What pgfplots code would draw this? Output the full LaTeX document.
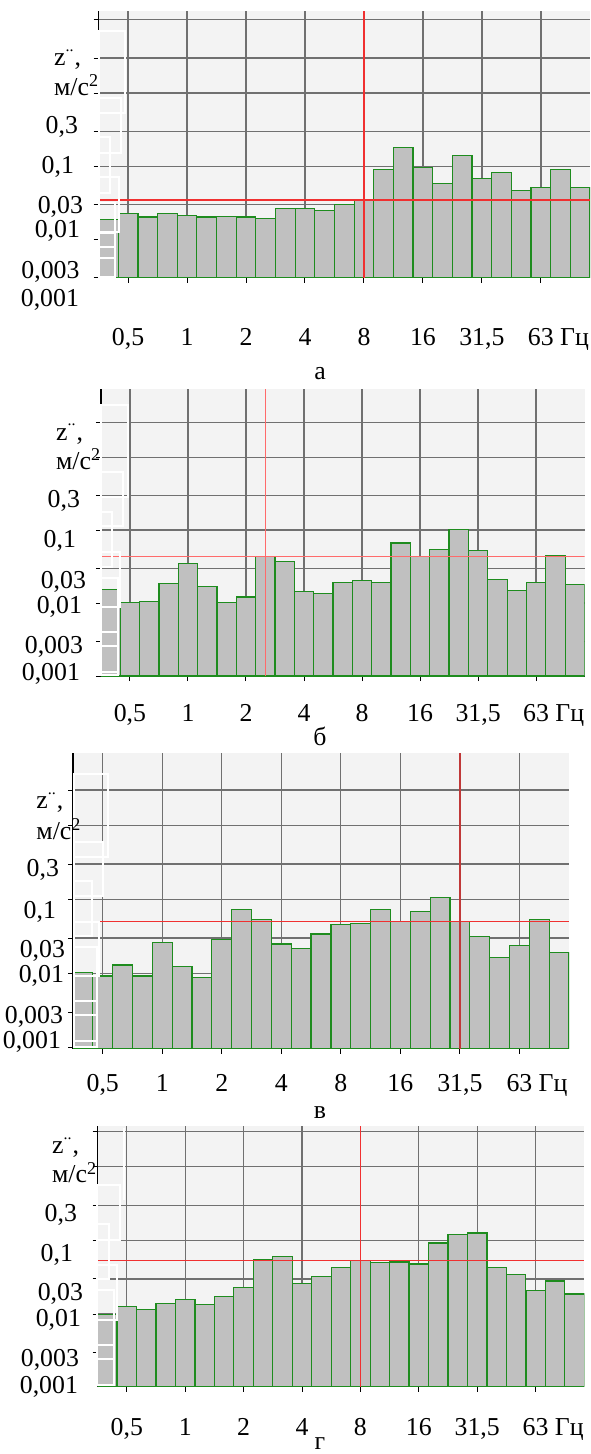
\documentclass[border=0pt]{standalone}
\usepackage{fontspec}
\setmainfont{Liberation Serif}
\usepackage{pgfplots}
\pgfplotsset{compat=1.18}
\definecolor{bg}{HTML}{F3F3F3}
\definecolor{gridc}{HTML}{707070}
\definecolor{barfill}{HTML}{C0C0C0}
\definecolor{baredge}{HTML}{1E8C1E}
\definecolor{redl}{HTML}{F03030}
\definecolor{redlight}{HTML}{FF6A6A}
\definecolor{reddark}{HTML}{C03838}
\newcommand\lbl{\fontsize{12.9}{15}\selectfont}
\newcommand\zlab{z\raisebox{0.55em}{\fontsize{8}{8}\selectfont..}\kern0.5pt,}
\pgfplotsset{
 myPanel/.style={
   scale only axis, anchor=south west,
   xmin=-0.5, xmax=24.5, log origin=infty,
   axis lines=left, axis line style={-, black, line width=0.7pt},
   axis background/.style={fill=bg},
   xtick={1,4,7,10,13,16,19,22},
   xticklabels={{0,5},{1},{2},{4},{8},{16},{31,5},{63\rlap{ Гц}}},
   xticklabel style={font=\lbl, anchor=base},
   ytick={0.001,0.003,0.01,0.03,0.1,0.3,1,3,10},
   yticklabels={},
   yticklabel style={opacity=0},
   xmajorgrids, ymajorgrids,
   major grid style={gridc, line width=0.65pt},
   tick align=outside, major tick length=2.5pt,
   tick style={black, line width=0.5pt},
 },
 myBars/.style={ybar, bar width=1, fill=barfill, draw=baredge, line width=0.6pt},
 myRed/.style={redl, line width=0.65pt, no marks},
}
\begin{document}
\begin{tikzpicture}
% ---------- panel a ----------
\begin{axis}[myPanel, ymode=log, at={(49.3pt,-138.85pt)}, width=245.7pt, height=133.35pt,
  ymin=0.003, ymax=13.2, xticklabel style={yshift=-31.5pt}]
\addplot[myBars] table {
0 0.0189
1 0.0224
2 0.0202
3 0.0224
4 0.0212
5 0.0202
6 0.0206
7 0.0202
8 0.0193
9 0.0264
10 0.0264
11 0.0246
12 0.0297
13 0.0345
14 0.0892
15 0.180
16 0.0971
17 0.0587
18 0.1385
19 0.0687
20 0.0819
21 0.0461
22 0.0518
23 0.0892
24 0.0518
};
\addplot[myRed] coordinates {(-0.5,0.0345) (24.5,0.0345)};
\addplot[myRed] coordinates {(13,0.003) (13,13.2)};
\end{axis}
% ---------- panel b ----------
\begin{axis}[myPanel, ymode=log, at={(50.45pt,-338pt)}, width=241.8pt, height=143.5pt,
  ymin=0.001, ymax=8.6, xticklabel style={yshift=-20pt}]
\addplot[myBars] table {
0 0.0152
1 0.0102
2 0.0105
3 0.0186
4 0.0345
5 0.0169
6 0.0102
7 0.0121
8 0.0435
9 0.0368
10 0.0143
11 0.0135
12 0.0190
13 0.0202
14 0.0190
15 0.0664
16 0.0435
17 0.0549
18 0.1019
19 0.0532
20 0.0213
21 0.0149
22 0.0190
23 0.0445
24 0.0180
};
\addplot[myRed, color=redlight] coordinates {(-0.5,0.0435) (24.5,0.0435)};
\addplot[myRed, color=redlight] coordinates {(8,0.001) (8,8.6)};
\end{axis}
% ---------- panel c ----------
\begin{axis}[myPanel, ymode=log, at={(36.5pt,-524.35pt)}, width=248pt, height=147.85pt,
  ymin=0.00096, ymax=9.5, xticklabel style={yshift=-19pt}]
\addplot[myBars] table {
0 0.0102
1 0.0092
2 0.0130
3 0.0092
4 0.0262
5 0.0123
6 0.0087
7 0.0288
8 0.0739
9 0.0537
10 0.0249
11 0.0218
12 0.0340
13 0.0459
14 0.0474
15 0.0739
16 0.0498
17 0.0680
18 0.1064
19 0.0498
20 0.0312
21 0.0163
22 0.0241
23 0.0537
24 0.0192
};
\addplot[myRed] coordinates {(-0.5,0.0498) (24.5,0.0498)};
\addplot[myRed, color=reddark] coordinates {(19,0.00096) (19,9.5)};
\end{axis}
% ---------- panel d ----------
\begin{axis}[myPanel, ymode=log, at={(48.8pt,-693.35pt)}, width=243.35pt, height=130.35pt,
  ymin=0.00103, ymax=3.57, xticklabel style={yshift=-21.65pt}]
\addplot[myBars] table {
0 0.0099
1 0.0125
2 0.0116
3 0.0138
4 0.0158
5 0.0133
6 0.0174
7 0.0230
8 0.0552
9 0.0599
10 0.0261
11 0.0320
12 0.0430
13 0.0530
14 0.0496
15 0.0507
16 0.0477
17 0.0919
18 0.1190
19 0.1256
20 0.0430
21 0.0341
22 0.0211
23 0.0280
24 0.0187
};
\addplot[myRed] coordinates {(-0.5,0.053) (24.5,0.053)};
\addplot[myRed] coordinates {(13,0.00103) (13,3.57)};
\end{axis}
% ---------- texts (1 unit = 1 px of the reference) ----------
\begin{scope}[x=0.5pt,y=-0.5pt,font=\lbl]
\begin{scope}[draw=white, line width=0.75pt]
\draw (99,31) rectangle (125,113);
\draw (99,98) rectangle (121,153);
\draw (99,137) rectangle (110,193);
\draw (99,177) rectangle (119,232);
\draw (99,203) rectangle (115,277);
\draw (99,233)--(115,233) (99,247)--(115,247) (99,258)--(115,258);
\draw (101,405) rectangle (128,497);
\draw (101,472) rectangle (123,526);
\draw (101,512) rectangle (112,567);
\draw (101,552) rectangle (120,607);
\draw (101,578) rectangle (118,675);
\draw (101,632)--(118,632) (101,646)--(118,646) (101,672)--(118,672);
\draw (74,774) rectangle (108,857);
\draw (74,842) rectangle (103,896);
\draw (74,881) rectangle (92,936);
\draw (74,922) rectangle (99,976);
\draw (74,947) rectangle (97,1047);
\draw (74,1001)--(97,1001) (74,1015)--(97,1015) (74,1041)--(97,1041);
\draw (124,1128)--(124,1200);
\draw (97,1185) rectangle (120,1240);
\draw (97,1224) rectangle (109,1279);
\draw (97,1265) rectangle (117,1320);
\draw (97,1290) rectangle (114,1385);
\draw (97,1345)--(114,1345) (97,1359)--(114,1359);
\end{scope}
% panel a
\node[anchor=base west] at (47,65.7) {\zlab};
\node[anchor=base west] at (47,95.7) {м/с\textsuperscript{2}};
\node[anchor=base east] at (85,133.3) {0,3};
\node[anchor=base east] at (81,173.3) {0,1};
\node[anchor=base east] at (90,213.3) {0,03};
\node[anchor=base east] at (87,237.3) {0,01};
\node[anchor=base east] at (86.6,278.3) {0,003};
\node[anchor=base east] at (86,306.5) {0,001};
\node[anchor=base] at (320,380) {а};
% panel b
\node[anchor=base west] at (49,440) {\zlab};
\node[anchor=base west] at (49,469) {м/с\textsuperscript{2}};
\node[anchor=base east] at (87,507.3) {0,3};
\node[anchor=base east] at (83,547.3) {0,1};
\node[anchor=base east] at (93,588.3) {0,03};
\node[anchor=base east] at (89,613.3) {0,01};
\node[anchor=base east] at (90,653.3) {0,003};
\node[anchor=base east] at (87,680) {0,001};
\node[anchor=base] at (320,745) {б};
% panel c
\node[anchor=base west] at (29.4,808.3) {\zlab};
\node[anchor=base west] at (29.4,839.3) {м/с\textsuperscript{2}};
\node[anchor=base east] at (66,876) {0,3};
\node[anchor=base east] at (63,918.3) {0,1};
\node[anchor=base east] at (72,957.3) {0,03};
\node[anchor=base east] at (71,982.7) {0,01};
\node[anchor=base east] at (70,1023.3) {0,003};
\node[anchor=base east] at (68,1048.3) {0,001};
\node[anchor=base] at (320,1118.3) {в};
% panel d
\node[anchor=base west] at (45,1153.3) {\zlab};
\node[anchor=base west] at (45,1182.7) {м/с\textsuperscript{2}};
\node[anchor=base east] at (84,1221.7) {0,3};
\node[anchor=base east] at (80,1261) {0,1};
\node[anchor=base east] at (90,1300.7) {0,03};
\node[anchor=base east] at (88,1326.7) {0,01};
\node[anchor=base east] at (86,1366.7) {0,003};
\node[anchor=base east] at (85,1393.3) {0,001};
\node[anchor=base] at (320,1449) {г};
\end{scope}
\pgfresetboundingbox
\path[use as bounding box] (0pt,0pt) rectangle (295pt,-727pt);
\end{tikzpicture}
\end{document}
